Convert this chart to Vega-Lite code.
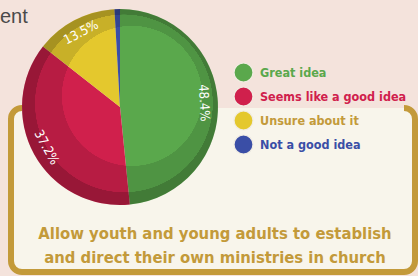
{
  "$schema": "https://vega.github.io/schema/vega-lite/v6.json",
  "width": 404,
  "height": 164,
  "autosize": {"type": "none"},
  "padding": {"left": 11, "top": 108, "right": 3, "bottom": 4},
  "background": "#f4e3dc",
  "config": {
    "view": {"stroke": null},
    "font": "Liberation Sans Narrow, DejaVu Sans Condensed, sans-serif"
  },
  "title": {
    "text": ["Allow youth and young adults to establish", "and direct their own ministries in church"],
    "orient": "bottom",
    "anchor": "middle",
    "offset": -49,
    "dx": 2,
    "fontSize": 16.5,
    "fontWeight": "bold",
    "font": "Liberation Sans Narrow, DejaVu Sans Condensed, sans-serif",
    "color": "#c39a3a",
    "lineHeight": 24
  },
  "datasets": {
    "survey": [
      {"answer": "Great idea", "share": 0.484},
      {"answer": "Seems like a good idea", "share": 0.372},
      {"answer": "Unsure about it", "share": 0.135},
      {"answer": "Not a good idea", "share": 0.009}
    ]
  },
  "layer": [
    {
      "data": {"values": [{"part": "panel"}]},
      "mark": {
        "type": "rect",
        "fill": "#f8f5eb",
        "stroke": "#c39a3a",
        "strokeWidth": 6,
        "cornerRadius": 11,
        "strokeDash": [0, 382, 3000]
      },
      "encoding": {
        "x": {"value": 0},
        "x2": {"value": "width"},
        "y": {"value": 0},
        "y2": {"value": "height"}
      }
    },
    {
      "data": {"name": "survey"},
      "mark": {"type": "arc", "outerRadius": 98, "x": 109, "y": -1},
      "encoding": {
        "theta": {"field": "share", "type": "quantitative", "stack": true},
        "order": {"field": "share", "type": "quantitative", "sort": "descending"},
        "color": {
          "field": "answer",
          "type": "nominal",
          "scale": {
            "domain": ["Great idea", "Seems like a good idea", "Unsure about it", "Not a good idea"],
            "range": ["#5aa84c", "#d0204c", "#e4c82d", "#3a4ea6"]
          },
          "legend": {
            "orient": "none",
            "legendX": 222,
            "legendY": -46,
            "title": null,
            "symbolType": "circle",
            "symbolSize": 360,
            "symbolStrokeColor": "#f1ece2",
            "symbolStrokeWidth": 1.2,
            "labelFont": "Liberation Sans Narrow, DejaVu Sans Condensed, sans-serif",
            "labelFontSize": 12.5,
            "labelFontWeight": "bold",
            "labelOffset": 6,
            "rowPadding": -1,
            "padding": 0,
            "labelLimit": 300,
            "encode": {
              "labels": {
                "update": {
                  "fill": {"signal": "datum.value === 'Unsure about it' ? '#c39a3a' : scale('color', datum.value)"}
                }
              }
            }
          }
        }
      }
    },
    {
      "data": {"values": [{"part": "shade"}]},
      "mark": {
        "type": "arc",
        "outerRadius": 98,
        "x": 109,
        "y": -1,
        "theta": 0,
        "theta2": 6.2832,
        "fill": {
          "gradient": "radial",
          "x1": 0.714, "y1": 0.301, "r1": 0,
          "x2": 0.5, "y2": 0.5, "r2": 0.5,
          "stops": [
            {"offset": 0, "color": "rgba(0,0,0,0)"},
            {"offset": 0.714, "color": "rgba(0,0,0,0)"},
            {"offset": 0.716, "color": "rgba(0,0,0,0.12)"},
            {"offset": 0.906, "color": "rgba(0,0,0,0.12)"},
            {"offset": 0.908, "color": "rgba(0,0,0,0.27)"},
            {"offset": 1, "color": "rgba(0,0,0,0.27)"}
          ]
        }
      },
      "encoding": {}
    },
    {
      "data": {"name": "survey"},
      "mark": {
        "type": "text",
        "radius": 84,
        "x": 109,
        "y": -1,
        "color": "white",
        "fontSize": 13,
        "font": "Liberation Sans Narrow, DejaVu Sans Condensed, sans-serif",
        "angle": {"expr": "scale('theta', 0.5*datum.share_start + 0.5*datum.share_end)*180/PI > 90 && scale('theta', 0.5*datum.share_start + 0.5*datum.share_end)*180/PI < 270 ? scale('theta', 0.5*datum.share_start + 0.5*datum.share_end)*180/PI - 180 : scale('theta', 0.5*datum.share_start + 0.5*datum.share_end)*180/PI"}
      },
      "encoding": {
        "theta": {"field": "share", "type": "quantitative", "stack": true},
        "order": {"field": "share", "type": "quantitative", "sort": "descending"},
        "text": {
          "condition": {"test": "datum.share < 0.05", "value": ""},
          "field": "share",
          "type": "quantitative",
          "format": ".1%"
        }
      }
    },
    {
      "data": {"values": [{"word": "ent"}]},
      "mark": {"type": "text", "x": -11, "y": -85, "align": "left", "baseline": "alphabetic", "fontSize": 20, "color": "#4a4a4a", "font": "Liberation Sans, sans-serif"},
      "encoding": {"text": {"field": "word", "type": "nominal"}}
    }
  ]
}
